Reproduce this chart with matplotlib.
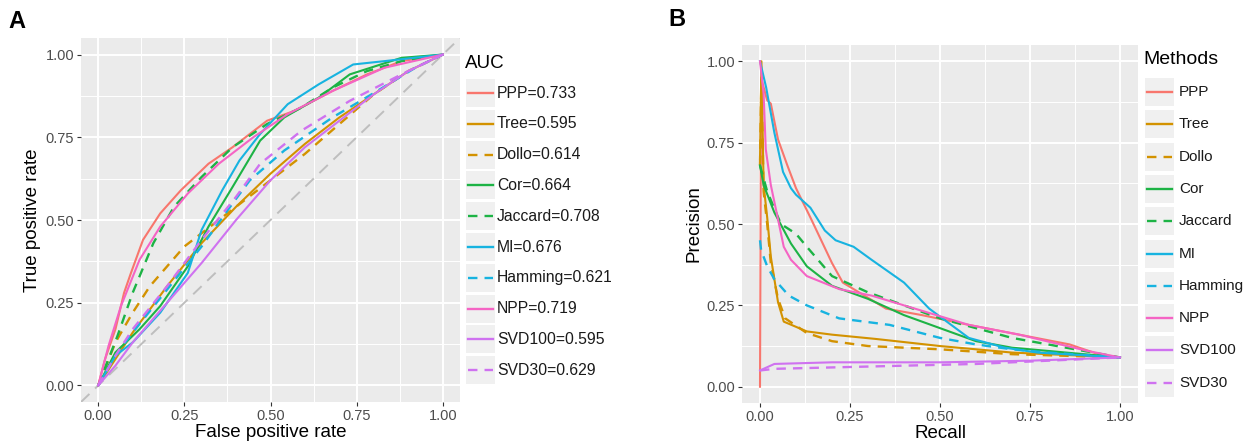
import matplotlib
matplotlib.use("Agg")
import matplotlib.pyplot as plt
from matplotlib.lines import Line2D
from matplotlib.patches import Rectangle

plt.rcParams["font.family"] = ["Liberation Sans", "DejaVu Sans"]

methods = ["PPP", "Tree", "Dollo", "Cor", "Jaccard", "MI", "Hamming", "NPP", "SVD100", "SVD30"]
auc = [0.733, 0.595, 0.614, 0.664, 0.708, 0.676, 0.621, 0.719, 0.595, 0.629]
colors = ["#F8766D", "#D39200", "#D39200", "#1DB345", "#1DB345",
          "#17B3E0", "#17B3E0", "#F564C4", "#CF72F0", "#CF72F0"]
dashed = [False, False, True, False, True, False, True, False, False, True]

# ROC curves (false positive rate, true positive rate)
roc_fpr = {
    "PPP":     [0, 0.02, 0.05, 0.075, 0.095, 0.13, 0.18, 0.24, 0.32, 0.39, 0.49, 0.57, 0.68, 0.78, 0.88, 1.0],
    "Tree":    [0, 0.05, 0.1, 0.2, 0.3, 0.4, 0.5, 0.6, 0.7, 0.8, 0.9, 1.0],
    "Dollo":   [0, 0.05, 0.1, 0.15, 0.2, 0.25, 0.3, 0.4, 0.5, 0.6, 0.7, 0.8, 0.9, 1.0],
    "Cor":     [0, 0.05, 0.12, 0.18, 0.26, 0.32, 0.39, 0.47, 0.54, 0.64, 0.73, 0.88, 1.0],
    "Jaccard": [0, 0.056, 0.10, 0.16, 0.22, 0.30, 0.39, 0.49, 0.59, 0.68, 0.78, 0.88, 1.0],
    "MI":      [0, 0.05, 0.10, 0.18, 0.26, 0.30, 0.36, 0.41, 0.47, 0.55, 0.64, 0.74, 0.83, 1.0],
    "Hamming": [0, 0.05, 0.1, 0.2, 0.3, 0.39, 0.44, 0.54, 0.68, 0.81, 0.92, 1.0],
    "NPP":     [0, 0.03, 0.066, 0.12, 0.18, 0.26, 0.35, 0.45, 0.55, 0.68, 0.83, 1.0],
    "SVD100":  [0, 0.05, 0.1, 0.2, 0.3, 0.4, 0.5, 0.6, 0.7, 0.8, 0.9, 1.0],
    "SVD30":   [0, 0.05, 0.1, 0.2, 0.3, 0.4, 0.47, 0.59, 0.73, 0.88, 1.0],
}
roc_tpr = {
    "PPP":     [0, 0.08, 0.17, 0.28, 0.34, 0.44, 0.52, 0.59, 0.67, 0.72, 0.80, 0.83, 0.89, 0.94, 0.98, 1.0],
    "Tree":    [0, 0.08, 0.16, 0.30, 0.43, 0.54, 0.64, 0.73, 0.81, 0.88, 0.95, 1.0],
    "Dollo":   [0, 0.13, 0.22, 0.30, 0.36, 0.42, 0.46, 0.54, 0.62, 0.70, 0.79, 0.88, 0.95, 1.0],
    "Cor":     [0, 0.10, 0.17, 0.24, 0.36, 0.48, 0.60, 0.74, 0.81, 0.87, 0.94, 0.99, 1.0],
    "Jaccard": [0, 0.15, 0.28, 0.43, 0.54, 0.63, 0.72, 0.79, 0.84, 0.90, 0.95, 0.98, 1.0],
    "MI":      [0, 0.09, 0.13, 0.22, 0.34, 0.47, 0.59, 0.68, 0.76, 0.85, 0.91, 0.97, 0.98, 1.0],
    "Hamming": [0, 0.09, 0.16, 0.29, 0.42, 0.55, 0.62, 0.71, 0.81, 0.89, 0.96, 1.0],
    "NPP":     [0, 0.12, 0.24, 0.38, 0.48, 0.58, 0.67, 0.75, 0.82, 0.89, 0.96, 1.0],
    "SVD100":  [0, 0.06, 0.13, 0.25, 0.37, 0.50, 0.62, 0.72, 0.80, 0.88, 0.95, 1.0],
    "SVD30":   [0, 0.09, 0.17, 0.30, 0.44, 0.57, 0.67, 0.77, 0.86, 0.94, 1.0],
}

# precision-recall curves
pr_recall = {
    "PPP":     [0, 0.003, 0.01, 0.02, 0.03, 0.05, 0.076, 0.10, 0.14, 0.17, 0.20, 0.23, 0.29, 0.35, 0.45, 0.58, 0.72, 0.86, 0.94, 1.0],
    "Tree":    [0, 0.004, 0.01, 0.02, 0.03, 0.05, 0.066, 0.13, 0.2, 0.32, 0.5, 0.7, 1.0],
    "Dollo":   [0, 0.004, 0.01, 0.02, 0.03, 0.05, 0.07, 0.13, 0.2, 0.3, 0.4, 0.5, 0.7, 1.0],
    "Cor":     [0, 0.01, 0.04, 0.086, 0.13, 0.2, 0.3, 0.4, 0.5, 0.6, 0.7, 0.8, 1.0],
    "Jaccard": [0, 0.02, 0.058, 0.1, 0.13, 0.2, 0.3, 0.4, 0.5, 0.6, 0.7, 0.8, 0.9, 1.0],
    "MI":      [0, 0.017, 0.04, 0.064, 0.086, 0.10, 0.14, 0.18, 0.21, 0.26, 0.31, 0.40, 0.47, 0.58, 0.68, 0.77, 1.0],
    "Hamming": [0, 0.003, 0.02, 0.04, 0.08, 0.13, 0.22, 0.36, 0.5, 0.6, 0.7, 0.8, 1.0],
    "NPP":     [0, 0.01, 0.016, 0.03, 0.066, 0.086, 0.13, 0.22, 0.31, 0.40, 0.49, 0.58, 0.72, 0.91, 1.0],
    "SVD100":  [0, 0.02, 0.04, 0.2, 0.5, 0.75, 1.0],
    "SVD30":   [0, 0.04, 0.3, 0.6, 0.8, 1.0],
}
pr_precision = {
    "PPP":     [0, 0.95, 0.92, 0.88, 0.87, 0.76, 0.68, 0.61, 0.52, 0.45, 0.38, 0.32, 0.28, 0.24, 0.22, 0.19, 0.16, 0.13, 0.10, 0.09],
    "Tree":    [0.70, 1.0, 0.62, 0.52, 0.40, 0.26, 0.20, 0.17, 0.16, 0.147, 0.125, 0.105, 0.09],
    "Dollo":   [0.68, 0.95, 0.60, 0.50, 0.38, 0.27, 0.21, 0.165, 0.14, 0.125, 0.12, 0.115, 0.10, 0.09],
    "Cor":     [0.68, 0.62, 0.535, 0.44, 0.37, 0.31, 0.27, 0.22, 0.18, 0.14, 0.12, 0.11, 0.09],
    "Jaccard": [0.68, 0.60, 0.50, 0.47, 0.43, 0.34, 0.29, 0.25, 0.21, 0.18, 0.15, 0.13, 0.11, 0.09],
    "MI":      [1.0, 0.92, 0.78, 0.66, 0.61, 0.59, 0.55, 0.48, 0.45, 0.43, 0.39, 0.32, 0.24, 0.15, 0.12, 0.105, 0.09],
    "Hamming": [0.45, 0.42, 0.37, 0.33, 0.28, 0.25, 0.21, 0.19, 0.15, 0.13, 0.115, 0.105, 0.09],
    "NPP":     [1.0, 0.90, 0.73, 0.62, 0.43, 0.39, 0.34, 0.30, 0.28, 0.25, 0.22, 0.19, 0.16, 0.11, 0.09],
    "SVD100":  [0.05, 0.06, 0.07, 0.075, 0.075, 0.08, 0.09],
    "SVD30":   [0.05, 0.055, 0.062, 0.07, 0.08, 0.09],
}

W, H = 1253, 446
fig = plt.figure(figsize=(W / 100, H / 100), dpi=100)


def px(x, y):
    return x / W, 1 - y / H


def style_axes(ax):
    ax.set_facecolor("#EBEBEB")
    ax.set_xlim(-0.05, 1.05)
    ax.set_ylim(-0.05, 1.05)
    ticks = [0, 0.25, 0.5, 0.75, 1.0]
    labels = ["0.00", "0.25", "0.50", "0.75", "1.00"]
    ax.set_xticks(ticks)
    ax.set_xticklabels(labels)
    ax.set_yticks(ticks)
    ax.set_yticklabels(labels)
    ax.set_xticks([0.125, 0.375, 0.625, 0.875], minor=True)
    ax.set_yticks([0.125, 0.375, 0.625, 0.875], minor=True)
    ax.grid(which="major", color="white", lw=1.4)
    ax.grid(which="minor", color="white", lw=0.7)
    ax.set_axisbelow(True)
    for s in ax.spines.values():
        s.set_visible(False)
    ax.tick_params(which="major", length=3, color="#333333", labelsize=10.5,
                   labelcolor="#4D4D4D", pad=2)
    ax.tick_params(which="minor", length=0)


def draw_curve(ax, xs, ys, color, is_dashed):
    if is_dashed:
        ax.plot(xs, ys, color=color, lw=1.7, linestyle=(0, (4, 3)))
    else:
        ax.plot(xs, ys, color=color, lw=1.5)


def legend(title, labels, tx, ty, y0, dy, key_x0, text_x, size, tsize):
    fig.text(*px(tx, ty), title, fontsize=tsize, va="center", ha="left", color="black")
    for i, lab in enumerate(labels):
        yc = y0 + i * dy
        x0, y1 = px(key_x0, yc + 14)
        fig.add_artist(Rectangle((x0, y1), 29 / W, 28 / H, transform=fig.transFigure,
                                 facecolor="#F0F0F0", edgecolor="none"))
        xa, ya = px(key_x0 + 2, yc)
        xb, _ = px(key_x0 + 27, yc)
        ls = (0, (4, 3)) if dashed[i] else "-"
        fig.add_artist(Line2D([xa, xb], [ya, ya], transform=fig.transFigure,
                              color=colors[i], lw=1.7, linestyle=ls))
        fig.text(*px(text_x, yc), lab, fontsize=size, va="center", ha="left", color="#1A1A1A")


# panel A: ROC
axA = fig.add_axes([81 / W, 1 - 402 / H, 379 / W, 364 / H])
style_axes(axA)
axA.axline((0, 0), (1, 1), color="#BEBEBE", lw=1.4, linestyle=(0, (6, 4)))
for i, m in enumerate(methods):
    draw_curve(axA, roc_fpr[m], roc_tpr[m], colors[i], dashed[i])
axA.set_xlabel("False positive rate", fontsize=13.5, labelpad=1)
axA.set_ylabel("True positive rate", fontsize=13.5, labelpad=3)
fig.text(*px(8, 22), "A", fontsize=17, fontweight="bold", va="center")

# panel B: precision-recall
axB = fig.add_axes([742 / W, 1 - 403 / H, 396 / W, 358 / H])
style_axes(axB)
for i, m in enumerate(methods):
    draw_curve(axB, pr_recall[m], pr_precision[m], colors[i], dashed[i])
axB.set_xlabel("Recall", fontsize=13.5, labelpad=1)
axB.set_ylabel("Precision", fontsize=13.5, labelpad=3)
fig.text(*px(668, 20), "B", fontsize=17, fontweight="bold", va="center")

auc_labels = [f"{m}={a:.3f}" for m, a in zip(methods, auc)]
legend("AUC", auc_labels, 465, 63, 93, 30.8, 466, 497, 11.3, 13.5)
legend("Methods", methods, 1143, 60, 92, 32.3, 1145, 1179, 11, 14)

fig.savefig("out.png", dpi=100)
